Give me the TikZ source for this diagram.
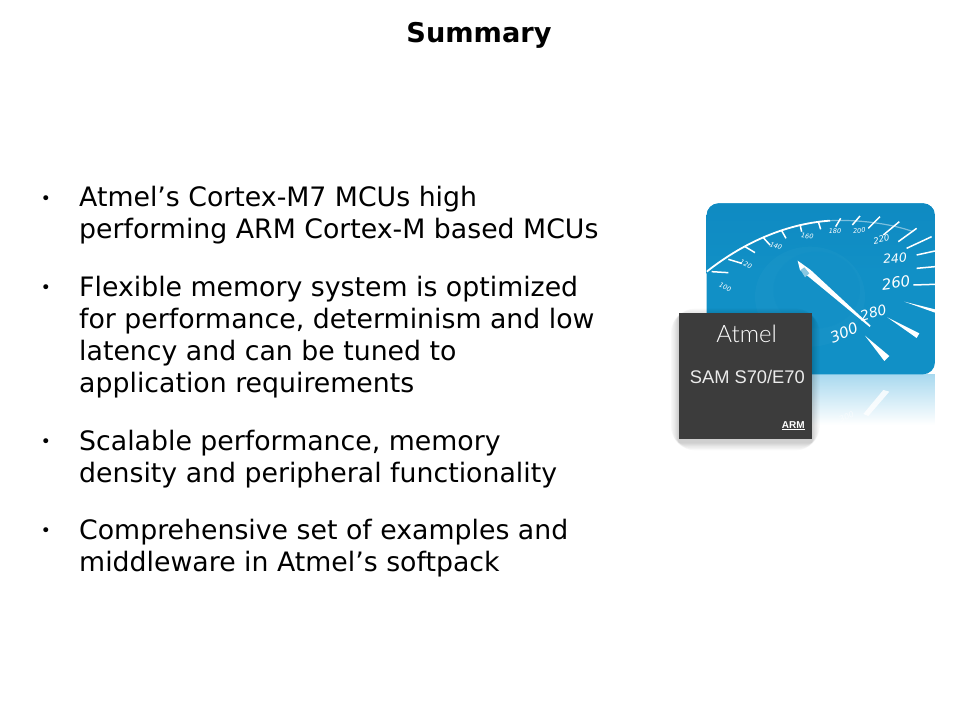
\documentclass[tikz,border=0pt]{standalone}
\usepackage{fontspec}
\setmainfont{DejaVu Sans}
\newfontfamily\armfont{Liberation Sans}
\newfontfamily\logofont{Lato Light}
\definecolor{dial}{HTML}{1190C6}
\definecolor{dialb}{HTML}{0F8AC2}
\definecolor{hub}{HTML}{2A9DCB}
\definecolor{chip}{HTML}{3C3C3C}
\definecolor{refl}{HTML}{A9D9EF}
\tikzset{
 body/.style={anchor=base west,font=\fontsize{26.75}{32}\selectfont,inner sep=0,text=black},
 bul/.style={anchor=base,font=\fontsize{17}{17}\selectfont,inner sep=0},
 tick/.style={white,line width=1.5pt},
 wedge/.style={fill=white},
 ticklab/.style={text=white,font=\fontsize{6.5}{6.5}\selectfont\itshape,inner sep=0},
}
\begin{document}
\begin{tikzpicture}[x=1pt,y=-1pt]
\useasboundingbox[fill=white] (0,0) rectangle (960,720);
\node[anchor=base,font=\fontsize{27.2}{30}\selectfont\bfseries,inner sep=0] (title) at (479,42) {Summary};
\foreach \n/\y in {a/204,b/293,c/447,d/536}{\node[bul] (bul\n) at (46,\y) {•};}
\node[body] (l1) at (79,206) {Atmel’s Cortex-M7 MCUs high};
\node[body] (l2) at (79,238) {performing ARM Cortex-M based MCUs};
\node[body] (l3) at (79,296) {Flexible memory system is optimized};
\node[body] (l4) at (79,328) {for performance, determinism and low};
\node[body] (l5) at (79,360) {latency and can be tuned to};
\node[body] (l6) at (79,392) {application requirements};
\node[body] (l7) at (79,450) {Scalable performance, memory};
\node[body] (l8) at (79,482) {density and peripheral functionality};
\node[body] (l9) at (79,539) {Comprehensive set of examples and};
\node[body] (l10) at (79,571) {middleware in Atmel’s softpack};
% picture, in the 3x coordinates of the crop
\begin{scope}[shift={(650,190)},x=0.3333pt,y=-0.3333pt]
 % reflection
 \shade[top color=refl,bottom color=white] (485,553) rectangle (855,705);
 \fill[white,opacity=.8] (640,672) -- (700,600) -- (718,605) -- (655,678) -- cycle;
 \node[text=white,opacity=.6,rotate=25,font=\fontsize{8}{8}\selectfont\itshape,inner sep=0] (r300) at (590,680) {300};
 % dial
 \fill[dial,rounded corners=12pt] (170,40) rectangle (855,553);
 \begin{scope}
  \clip[rounded corners=12pt] (170,40) rectangle (855,553);
  \shade[top color=dialb,bottom color=dial] (170,40) rectangle (855,250);
  \fill[hub,opacity=.22] (480,320) ellipse (165 and 150);
  \fill[dial,opacity=.6] (500,300) ellipse (130 and 115);
  \draw[white,line width=1.8pt] (170,245) .. controls (290,150) and (420,100) .. (540,92);
  \draw[white,opacity=.45,line width=1.2pt] (540,92) .. controls (620,88) and (720,100) .. (790,125);
  \foreach \ax/\ay/\bx/\by in {
   185/245/235/248, 235/208/275/220, 285/170/315/188, 340/143/360/165,
   395/122/408/145, 450/103/455/125, 505/95/512/118, 557/110/572/85,
   607/105/630/78, 655/115/690/80, 700/135/748/95, 745/155/800/115,
   770/175/845/140, 800/195/855/183, 800/235/855/230, 790/285/855/283}{
   \draw[tick] (\ax,\ay) -- (\bx,\by);
  }
  \fill[wedge] (763,335) -- (855,358) -- (855,368) -- cycle;
  \fill[wedge] (712,382) -- (808,430) -- (800,444) -- cycle;
  \fill[wedge] (645,437) -- (718,498) -- (703,513) -- cycle;
 \end{scope}
 % needle
 \fill[white] (443,212) -- (482,240) -- (662,407) -- (659,411) -- (478,262) -- (450,240) -- cycle;
 \fill[dial!50!white] (452,240) -- (463,232) -- (478,250) -- (465,262) -- cycle;
 % labels
 \node[ticklab,rotate=-25] (n100) at (226,291) {100};
 \node[ticklab,rotate=-25] (n120) at (288,222) {120};
 \node[ticklab,rotate=-20] (n140) at (378,168) {140};
 \node[ticklab,rotate=-8] (n160) at (472,138) {160};
 \node[ticklab] (n180) at (555,122) {180};
 \node[ticklab,rotate=5] (n200) at (628,122) {200};
 \node[ticklab,rotate=12,font=\fontsize{8.5}{8.5}\selectfont\itshape] (n220) at (694,148) {220};
 \node[ticklab,rotate=5,font=\fontsize{12.5}{12.5}\selectfont\itshape] (n240) at (735,205) {240};
 \node[ticklab,rotate=8,font=\fontsize{15}{15}\selectfont\itshape] (n260) at (738,278) {260};
 \node[ticklab,rotate=15,font=\fontsize{14}{14}\selectfont\itshape] (n280) at (670,368) {280};
 \node[ticklab,rotate=22,font=\fontsize{15}{15}\selectfont\itshape] (n300) at (582,428) {300};
 % chip shadow
 \foreach \g in {24,20,16,12,9,6,3}{
  \fill[black,opacity=.028,rounded corners=\g pt] (87-\g,370-\g+10) rectangle (485+\g,747+\g+10);
 }
 \fill[chip] (87,370) rectangle (485,747);
 \node[text=white,font=\fontsize{24}{24}\selectfont\logofont,inner sep=0] (atm) at (290,433) {Atmel};
 \node[text=white!92!black,font=\fontsize{18.3}{18.3}\selectfont\armfont,inner sep=0] (sam) at (292,562) {SAM S70/E70};
 \node[text=white,font=\fontsize{10}{10}\selectfont\armfont\bfseries,inner sep=0] (arm) at (430,705) {ARM};
 \draw[white,line width=.7pt] (396,719) -- (465,719);
\end{scope}
\end{tikzpicture}
\end{document}
